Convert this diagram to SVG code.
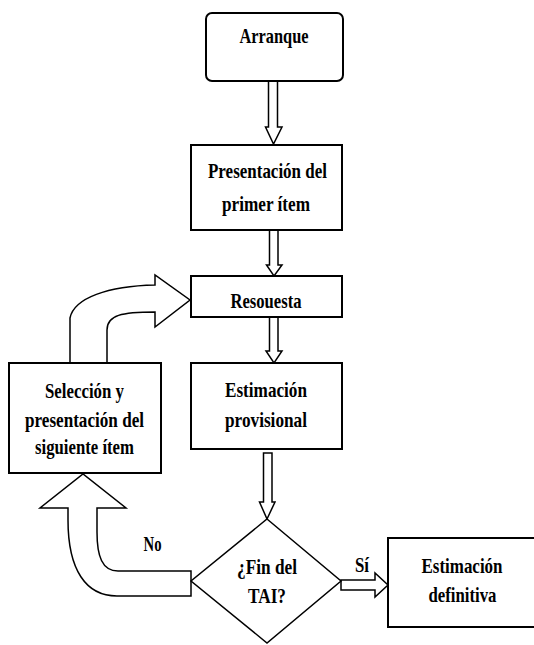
<svg xmlns="http://www.w3.org/2000/svg" width="534" height="645" viewBox="0 0 534 645" font-family="Liberation Serif, DejaVu Serif, serif" font-weight="bold" font-size="22">
<style>
.box{fill:#fff;stroke:#000;stroke-width:2}
.blk{fill:#fff;stroke:#000;stroke-width:1.5;stroke-linejoin:miter}
.t{fill:#000;text-anchor:middle}
</style>
<rect width="534" height="645" fill="#fff"/>
<g id="connectors">
<path class="blk" d="M268.5,81 L277.5,81 L277.5,127 L282,127 L273.5,144 L265.5,127 L268.5,127 Z"/>
<path class="blk" d="M269.5,230 L278,230 L278,265 L282,265 L274,276 L266.5,265 L269.5,265 Z"/>
<path class="blk" d="M269.5,317 L278,317 L278,351 L282,351 L274,363 L266,351 L269.5,351 Z"/>
<path class="blk" d="M263.5,453 L272,453 L272,502 L275,502 L267,519 L259.5,502 L263.5,502 Z"/>
<path class="blk" d="M341,580 L375,580 L375,573 L388,585 L375,597 L375,590 L341,590 Z"/>
<path class="blk" d="M70,363 L70,318 C74,298 108,286 155,285 L155,275 L190,300 L155,327 L155,312 C122,312 107,315 107,330 L107,363"/>
<path class="blk" d="M191,571 L118,571 C102,571 97,556 97,532 L97,508 L126,508 L83,474 L40,508 L68,508 L68,520 C68,570 86,596 117,596 L191,596 Z"/>
</g>
<g id="n-arranque">
<rect class="box" x="206" y="13" width="137" height="68" rx="6"/>
<text class="t" x="274" y="43" textLength="69" lengthAdjust="spacingAndGlyphs">Arranque</text>
</g>
<g id="n-presentacion">
<rect class="box" x="191" y="145" width="151" height="85"/>
<text class="t" x="267.5" y="178" textLength="119" lengthAdjust="spacingAndGlyphs">Presentación del</text>
<text class="t" x="266" y="211" textLength="88" lengthAdjust="spacingAndGlyphs">primer ítem</text>
</g>
<g id="n-respuesta">
<rect class="box" x="191" y="276" width="151" height="41"/>
<text class="t" x="266" y="308" textLength="71" lengthAdjust="spacingAndGlyphs">Resouesta</text>
</g>
<g id="n-provisional">
<rect class="box" x="191" y="363" width="151" height="86"/>
<text class="t" x="266" y="397" textLength="82" lengthAdjust="spacingAndGlyphs">Estimación</text>
<text class="t" x="266" y="427" textLength="82" lengthAdjust="spacingAndGlyphs">provisional</text>
</g>
<g id="n-seleccion">
<rect class="box" x="9" y="363" width="152" height="110"/>
<text class="t" x="84.5" y="398" textLength="79" lengthAdjust="spacingAndGlyphs">Selección y</text>
<text class="t" x="84.5" y="427" textLength="119" lengthAdjust="spacingAndGlyphs">presentación del</text>
<text class="t" x="84.5" y="454" textLength="99" lengthAdjust="spacingAndGlyphs">siguiente ítem</text>
</g>
<g id="n-fin">
<path class="blk" d="M267,519 L341,581 L267,643 L191,581 Z"/>
<text class="t" x="267" y="574" textLength="60" lengthAdjust="spacingAndGlyphs">¿Fin del</text>
<text class="t" x="267" y="603" textLength="38" lengthAdjust="spacingAndGlyphs">TAI?</text>
</g>
<g id="n-definitiva">
<rect class="box" x="388" y="538" width="160" height="89"/>
<text class="t" x="462" y="573" textLength="81" lengthAdjust="spacingAndGlyphs">Estimación</text>
<text class="t" x="462.5" y="602" textLength="68" lengthAdjust="spacingAndGlyphs">definitiva</text>
</g>
<g id="labels">
<text class="t" x="362" y="572" textLength="14" lengthAdjust="spacingAndGlyphs">Sí</text>
<text class="t" x="152.5" y="551" textLength="18" lengthAdjust="spacingAndGlyphs">No</text>
</g>
</svg>
